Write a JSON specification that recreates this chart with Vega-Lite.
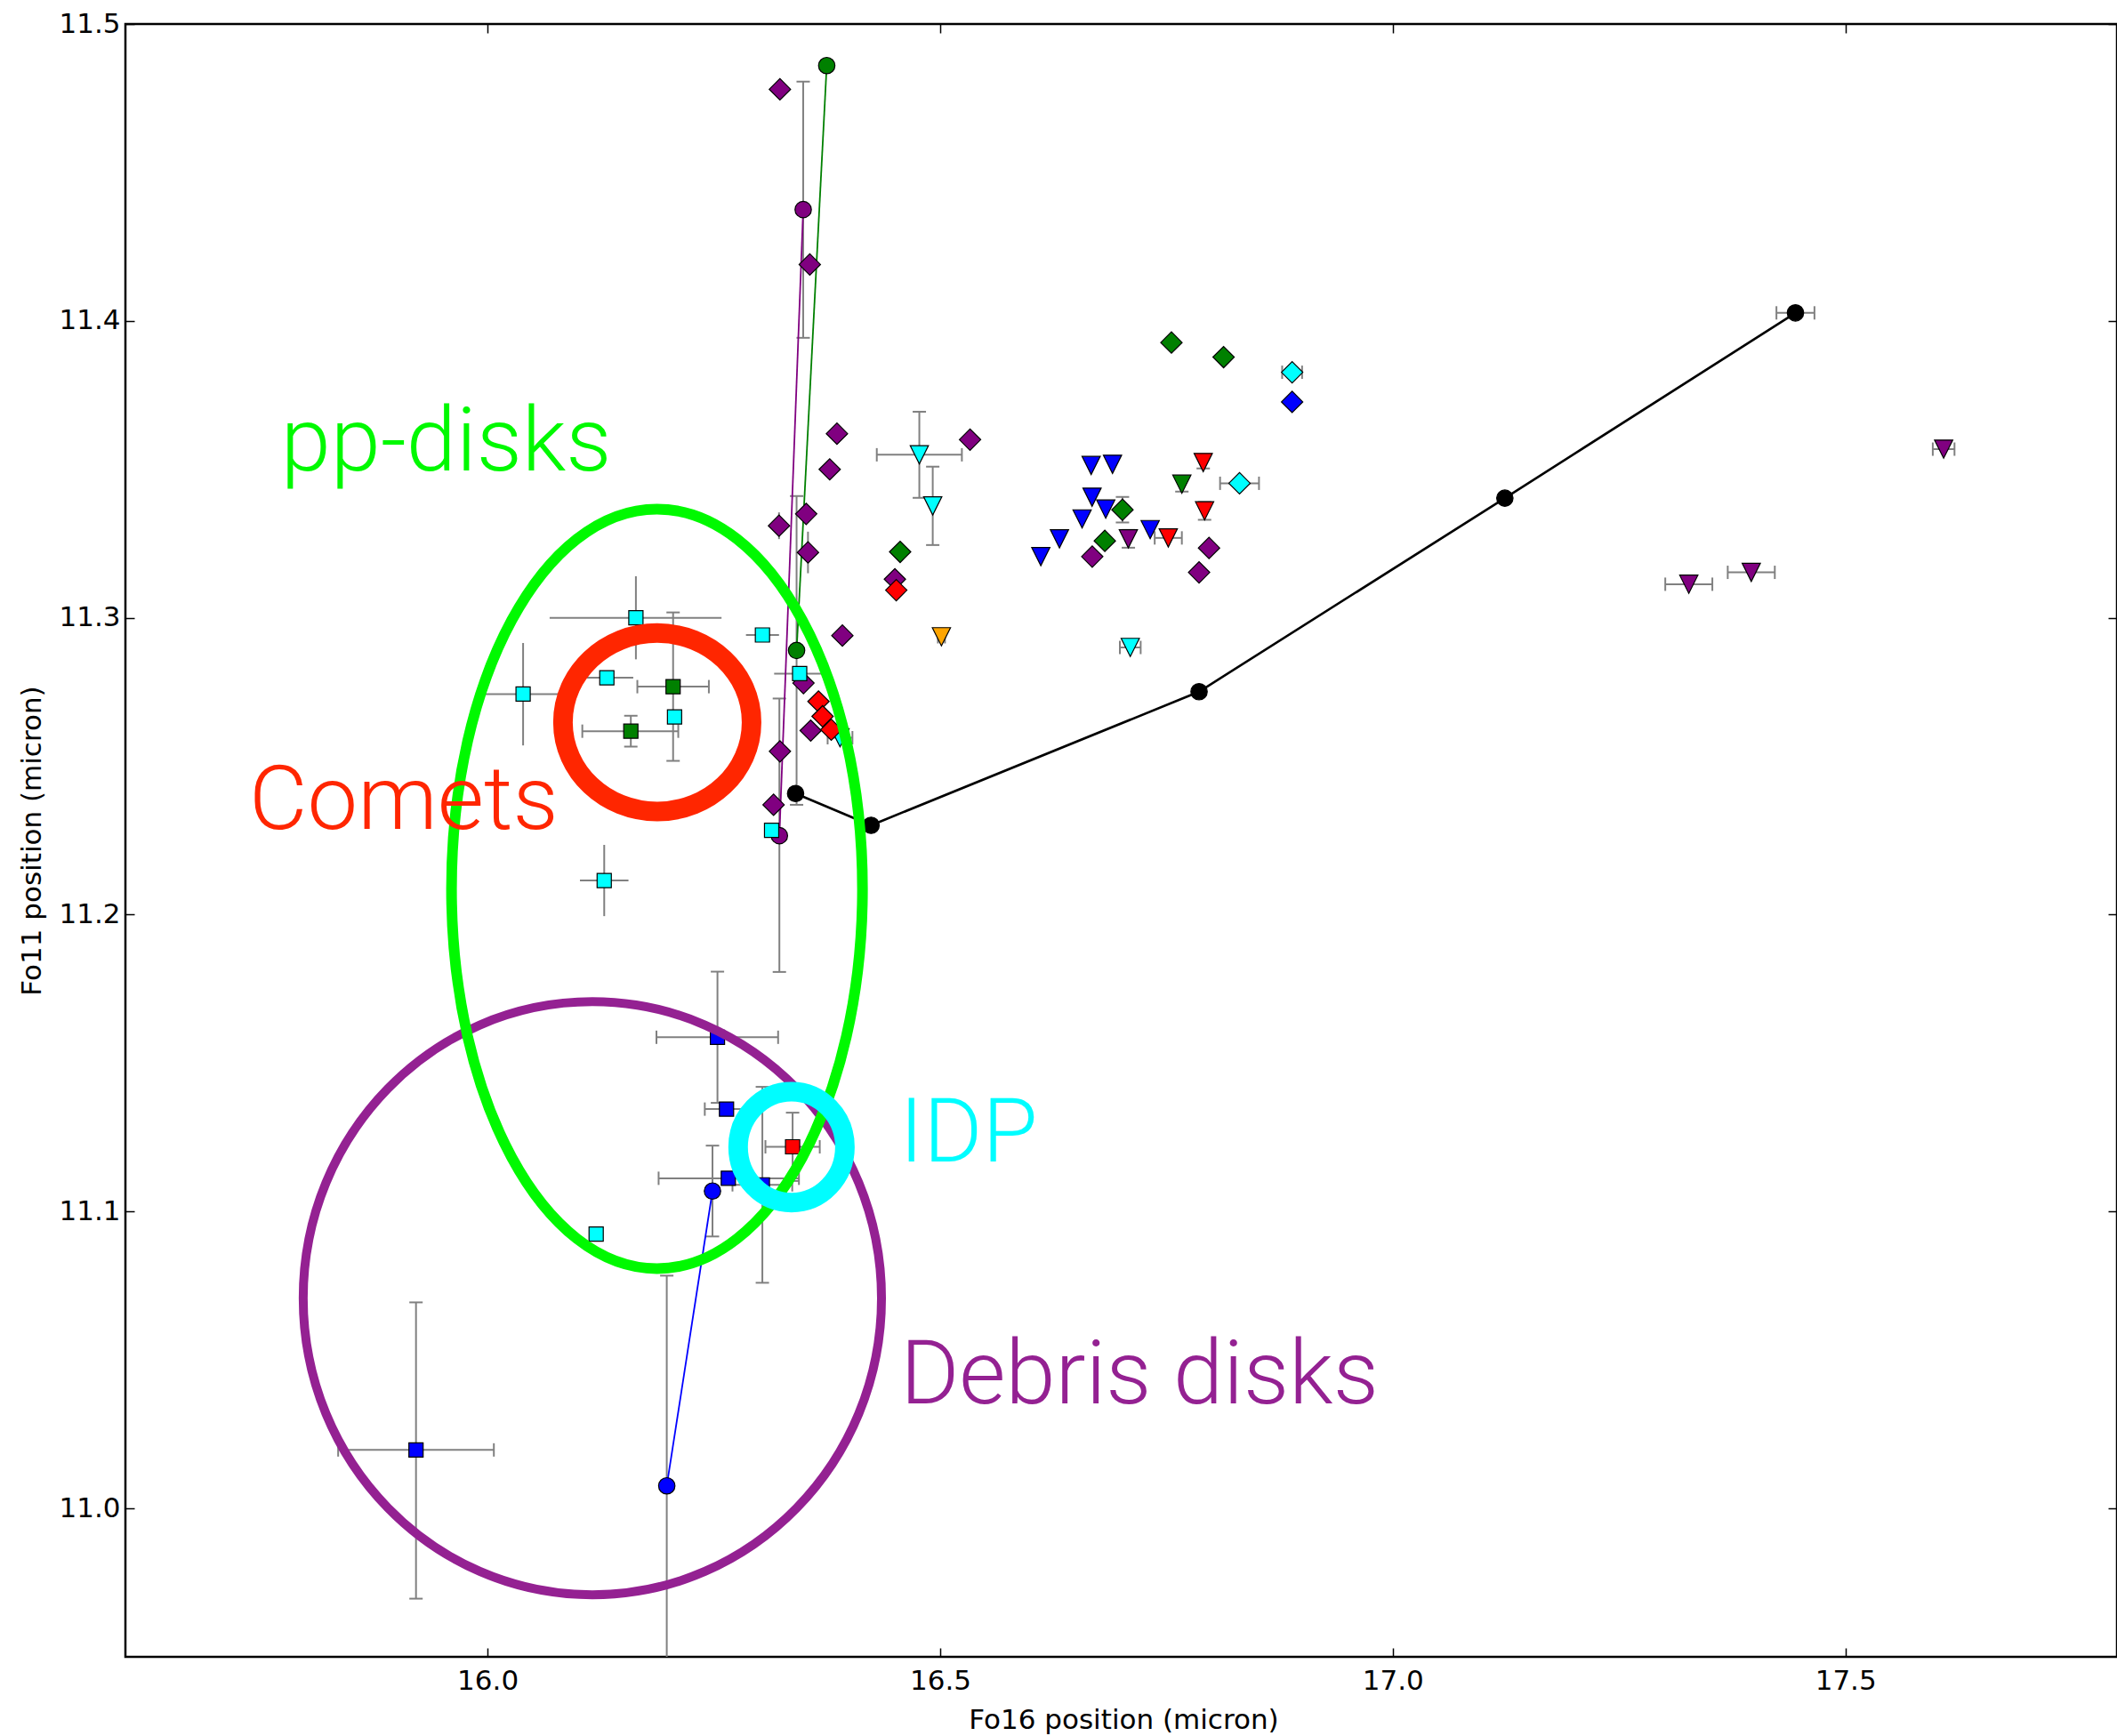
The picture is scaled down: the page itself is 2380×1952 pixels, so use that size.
{
  "$schema": "https://vega.github.io/schema/vega-lite/v6.json",
  "width": 2239,
  "height": 1836,
  "autosize": {"type": "none"},
  "padding": {"left": 141, "top": 27, "right": 0, "bottom": 89},
  "background": "white",
  "config": {
    "view": {"stroke": "#000", "strokeWidth": 2.5},
    "axis": {
      "labelFont": "DejaVu Sans", "labelFontSize": 31, "labelColor": "#000",
      "titleFont": "DejaVu Sans", "titleFontSize": 31, "titleFontWeight": "normal", "titleColor": "#000",
      "tickColor": "#000", "tickWidth": 1.5, "tickSize": -10, "grid": false, "domain": false
    }
  },
  "datasets": {
    "pts": [
      {"x": 16.3403, "y": 11.2408, "kind": "circle", "col": "black", "track": "black"},
      {"x": 16.4237, "y": 11.2301, "kind": "circle", "col": "black", "track": "black"},
      {"x": 16.786, "y": 11.2751, "kind": "circle", "col": "black", "track": "black"},
      {"x": 17.1238, "y": 11.3403, "kind": "circle", "col": "black", "track": "black"},
      {"x": 17.4448, "y": 11.4027, "kind": "circle", "col": "black", "track": "black", "xlo": 17.4238, "xhi": 17.4658},
      {"x": 16.323, "y": 11.478, "kind": "diamond", "col": "purple"},
      {"x": 16.356, "y": 11.419, "kind": "diamond", "col": "purple"},
      {"x": 16.386, "y": 11.362, "kind": "diamond", "col": "purple"},
      {"x": 16.378, "y": 11.35, "kind": "diamond", "col": "purple"},
      {"x": 16.352, "y": 11.335, "kind": "diamond", "col": "purple"},
      {"x": 16.322, "y": 11.331, "kind": "diamond", "col": "purple", "ylo": 11.3265, "yhi": 11.3355},
      {"x": 16.354, "y": 11.322, "kind": "diamond", "col": "purple", "ylo": 11.315, "yhi": 11.329},
      {"x": 16.533, "y": 11.36, "kind": "diamond", "col": "purple"},
      {"x": 16.45, "y": 11.313, "kind": "diamond", "col": "purple"},
      {"x": 16.392, "y": 11.294, "kind": "diamond", "col": "purple"},
      {"x": 16.349, "y": 11.278, "kind": "diamond", "col": "purple"},
      {"x": 16.357, "y": 11.262, "kind": "diamond", "col": "purple"},
      {"x": 16.323, "y": 11.255, "kind": "diamond", "col": "purple"},
      {"x": 16.316, "y": 11.237, "kind": "diamond", "col": "purple"},
      {"x": 16.668, "y": 11.3206, "kind": "diamond", "col": "purple"},
      {"x": 16.797, "y": 11.3235, "kind": "diamond", "col": "purple"},
      {"x": 16.786, "y": 11.3153, "kind": "diamond", "col": "purple"},
      {"x": 16.3224, "y": 11.2266, "kind": "circle", "col": "purple", "track": "purple", "ylo": 11.1807, "yhi": 11.2728},
      {"x": 16.3487, "y": 11.4375, "kind": "circle", "col": "purple", "track": "purple", "ylo": 11.3943, "yhi": 11.4806},
      {"x": 16.3414, "y": 11.289, "kind": "circle", "col": "green", "track": "green", "ylo": 11.237, "yhi": 11.341},
      {"x": 16.3747, "y": 11.486, "kind": "circle", "col": "green", "track": "green"},
      {"x": 16.198, "y": 11.0076, "kind": "circle", "col": "blue", "track": "blue", "ylo": 10.9368, "yhi": 11.0784},
      {"x": 16.2485, "y": 11.1069, "kind": "circle", "col": "blue", "track": "blue", "ylo": 11.0916, "yhi": 11.1222},
      {"x": 16.477, "y": 11.3549, "kind": "tri", "col": "cyan", "xlo": 16.43, "xhi": 16.524, "ylo": 11.3404, "yhi": 11.3694},
      {"x": 16.4918, "y": 11.3377, "kind": "tri", "col": "cyan", "ylo": 11.3245, "yhi": 11.3509},
      {"x": 16.3894, "y": 11.2596, "kind": "tri", "col": "cyan", "xlo": 16.3757, "xhi": 16.4031},
      {"x": 16.71, "y": 11.29, "kind": "tri", "col": "cyan", "xlo": 16.6985, "xhi": 16.7215},
      {"x": 16.5014, "y": 11.2936, "kind": "tri", "col": "orange", "xlo": 16.4975, "xhi": 16.5053},
      {"x": 16.6668, "y": 11.3513, "kind": "tri", "col": "blue"},
      {"x": 16.6904, "y": 11.3517, "kind": "tri", "col": "blue"},
      {"x": 16.6678, "y": 11.3406, "kind": "tri", "col": "blue"},
      {"x": 16.6829, "y": 11.3366, "kind": "tri", "col": "blue"},
      {"x": 16.6568, "y": 11.3333, "kind": "tri", "col": "blue"},
      {"x": 16.6318, "y": 11.3266, "kind": "tri", "col": "blue"},
      {"x": 16.6112, "y": 11.3206, "kind": "tri", "col": "blue"},
      {"x": 16.732, "y": 11.3297, "kind": "tri", "col": "blue"},
      {"x": 16.752, "y": 11.3269, "kind": "tri", "col": "red", "xlo": 16.737, "xhi": 16.767},
      {"x": 16.7906, "y": 11.3523, "kind": "tri", "col": "red", "ylo": 11.3503, "yhi": 11.3543},
      {"x": 16.7921, "y": 11.336, "kind": "tri", "col": "red", "ylo": 11.333, "yhi": 11.339},
      {"x": 16.767, "y": 11.345, "kind": "tri", "col": "green", "ylo": 11.3425, "yhi": 11.3475},
      {"x": 16.7079, "y": 11.3266, "kind": "tri", "col": "purple", "ylo": 11.3236, "yhi": 11.3296},
      {"x": 17.6085, "y": 11.3568, "kind": "tri", "col": "purple", "xlo": 17.5965, "xhi": 17.6205},
      {"x": 17.327, "y": 11.3113, "kind": "tri", "col": "purple", "xlo": 17.301, "xhi": 17.353},
      {"x": 17.396, "y": 11.3153, "kind": "tri", "col": "purple", "xlo": 17.37, "xhi": 17.422},
      {"x": 16.4558, "y": 11.3222, "kind": "diamond", "col": "green"},
      {"x": 16.7555, "y": 11.3927, "kind": "diamond", "col": "green"},
      {"x": 16.8131, "y": 11.3878, "kind": "diamond", "col": "green"},
      {"x": 16.7014, "y": 11.3364, "kind": "diamond", "col": "green", "ylo": 11.3321, "yhi": 11.3407},
      {"x": 16.6819, "y": 11.3259, "kind": "diamond", "col": "green"},
      {"x": 16.8888, "y": 11.3827, "kind": "diamond", "col": "cyan", "xlo": 16.8778, "xhi": 16.8998},
      {"x": 16.8307, "y": 11.3453, "kind": "diamond", "col": "cyan", "xlo": 16.8092, "xhi": 16.8522},
      {"x": 16.8888, "y": 11.3727, "kind": "diamond", "col": "blue"},
      {"x": 16.4515, "y": 11.3093, "kind": "diamond", "col": "red"},
      {"x": 16.3656, "y": 11.2718, "kind": "diamond", "col": "red"},
      {"x": 16.3701, "y": 11.2668, "kind": "diamond", "col": "red"},
      {"x": 16.3797, "y": 11.2623, "kind": "diamond", "col": "red"},
      {"x": 16.1639, "y": 11.3, "kind": "square", "col": "cyan", "xlo": 16.0686, "xhi": 16.2585, "ylo": 11.286, "yhi": 11.314},
      {"x": 16.3037, "y": 11.2942, "kind": "square", "col": "cyan", "xlo": 16.2855, "xhi": 16.322},
      {"x": 16.3448, "y": 11.2812, "kind": "square", "col": "cyan", "xlo": 16.3166, "xhi": 16.3712},
      {"x": 16.1318, "y": 11.2798, "kind": "square", "col": "cyan", "xlo": 16.1092, "xhi": 16.161},
      {"x": 16.0393, "y": 11.2743, "kind": "square", "col": "cyan", "xlo": 15.9954, "xhi": 16.078, "ylo": 11.257, "yhi": 11.2915},
      {"x": 16.2066, "y": 11.2666, "kind": "square", "col": "cyan"},
      {"x": 16.1289, "y": 11.2115, "kind": "square", "col": "cyan", "xlo": 16.1021, "xhi": 16.1557, "ylo": 11.1995, "yhi": 11.2235},
      {"x": 16.3138, "y": 11.2284, "kind": "square", "col": "cyan"},
      {"x": 16.12, "y": 11.0924, "kind": "square", "col": "cyan"},
      {"x": 16.205, "y": 11.2768, "kind": "square", "col": "green", "xlo": 16.1655, "xhi": 16.2445, "ylo": 11.2518, "yhi": 11.3018},
      {"x": 16.1583, "y": 11.2618, "kind": "square", "col": "green", "xlo": 16.1047, "xhi": 16.2107, "ylo": 11.2566, "yhi": 11.267},
      {"x": 15.921, "y": 11.0197, "kind": "square", "col": "blue", "xlo": 15.835, "xhi": 16.007, "ylo": 10.9696, "yhi": 11.0694},
      {"x": 16.254, "y": 11.1587, "kind": "square", "col": "blue", "xlo": 16.1866, "xhi": 16.321, "ylo": 11.1366, "yhi": 11.1808},
      {"x": 16.264, "y": 11.1345, "kind": "square", "col": "blue", "xlo": 16.24, "xhi": 16.288},
      {"x": 16.266, "y": 11.1112, "kind": "square", "col": "blue", "xlo": 16.189, "xhi": 16.344},
      {"x": 16.3036, "y": 11.109, "kind": "square", "col": "blue", "xlo": 16.2706, "xhi": 16.3366, "ylo": 11.076, "yhi": 11.142},
      {"x": 16.337, "y": 11.1218, "kind": "square", "col": "red", "xlo": 16.307, "xhi": 16.367, "ylo": 11.1103, "yhi": 11.1333}
    ],
    "rings": [
      {"id": "pp", "cx": 16.1872, "cy": 11.2087},
      {"id": "comets", "cx": 16.1875, "cy": 11.2648},
      {"id": "idp", "cx": 16.3358, "cy": 11.1217},
      {"id": "debris", "cx": 16.1158, "cy": 11.0708}
    ],
    "labels": [
      {"label": "pp-disks", "lx": 15.7718, "ly": 11.3497},
      {"label": "Comets", "lx": 15.7365, "ly": 11.229},
      {"label": "IDP", "lx": 16.4552, "ly": 11.1168},
      {"label": "Debris disks", "lx": 16.456, "ly": 11.0355}
    ]
  },
  "resolve": {"axis": {"x": "independent", "y": "independent"}},
  "layer": [
    {
      "data": {"name": "pts"},
      "transform": [{"filter": "datum.xlo != null"}],
      "mark": {"type": "rule", "color": "#808080", "strokeWidth": 2, "clip": true},
      "encoding": {
        "x": {"field": "xlo", "type": "quantitative", "scale": {"domain": [15.6, 17.8], "nice": false, "zero": false},
          "axis": {"orient": "bottom", "values": [16, 16.5, 17, 17.5], "format": ".1f", "labelPadding": 22, "labelFlush": false,
            "title": "Fo16 position (micron)", "titleX": 1122, "titleY": 80, "titleBaseline": "alphabetic", "titleAlign": "center"}},
        "x2": {"field": "xhi"},
        "y": {"field": "y", "type": "quantitative", "scale": {"domain": [10.95, 11.5], "nice": false, "zero": false},
          "axis": {"orient": "left", "values": [11, 11.1, 11.2, 11.3, 11.4, 11.5], "format": ".1f", "labelPadding": 16,
            "title": "Fo11 position (micron)", "titleX": -96, "titleY": 918, "titleAngle": -90, "titleBaseline": "alphabetic", "titleAlign": "center"}}
      }
    },
    {
      "data": {"name": "pts"},
      "transform": [{"filter": "datum.ylo != null"}],
      "mark": {"type": "rule", "color": "#808080", "strokeWidth": 2, "clip": true},
      "encoding": {
        "x": {"field": "x", "type": "quantitative", "scale": {"domain": [15.6, 17.8], "nice": false, "zero": false},
          "axis": {"orient": "top", "values": [16, 16.5, 17, 17.5], "labels": false, "title": null}},
        "y": {"field": "ylo", "type": "quantitative", "scale": {"domain": [10.95, 11.5], "nice": false, "zero": false},
          "axis": {"orient": "right", "values": [11, 11.1, 11.2, 11.3, 11.4, 11.5], "labels": false, "title": null}},
        "y2": {"field": "yhi"}
      }
    },
    {
      "data": {"name": "pts"},
      "transform": [
        {"filter": "datum.xlo != null && !(datum.kind == 'square' && datum.col == 'cyan') && !(datum.kind == 'diamond' && datum.col == 'purple')"},
        {"fold": ["xlo", "xhi"], "as": ["k", "v"]}
      ],
      "mark": {"type": "tick", "orient": "vertical", "size": 15, "thickness": 2, "color": "#808080", "opacity": 1, "clip": true},
      "encoding": {
        "x": {"field": "v", "type": "quantitative", "scale": {"domain": [15.6, 17.8], "nice": false, "zero": false}, "axis": null},
        "y": {"field": "y", "type": "quantitative", "scale": {"domain": [10.95, 11.5], "nice": false, "zero": false}, "axis": null}
      }
    },
    {
      "data": {"name": "pts"},
      "transform": [
        {"filter": "datum.ylo != null && !(datum.kind == 'square' && datum.col == 'cyan') && !(datum.kind == 'diamond' && datum.col == 'purple')"},
        {"fold": ["ylo", "yhi"], "as": ["k", "v"]}
      ],
      "mark": {"type": "tick", "orient": "horizontal", "size": 15, "thickness": 2, "color": "#808080", "opacity": 1, "clip": true},
      "encoding": {
        "x": {"field": "x", "type": "quantitative", "scale": {"domain": [15.6, 17.8], "nice": false, "zero": false}, "axis": null},
        "y": {"field": "v", "type": "quantitative", "scale": {"domain": [10.95, 11.5], "nice": false, "zero": false}, "axis": null}
      }
    },
    {
      "data": {"name": "pts"},
      "transform": [{"filter": "datum.track == 'black'"}],
      "mark": {"type": "line", "color": "#000", "strokeWidth": 2.6, "clip": true},
      "encoding": {
        "x": {"field": "x", "type": "quantitative", "scale": {"domain": [15.6, 17.8], "nice": false, "zero": false}, "axis": null},
        "y": {"field": "y", "type": "quantitative", "scale": {"domain": [10.95, 11.5], "nice": false, "zero": false}, "axis": null}
      }
    },
    {
      "data": {"name": "pts"},
      "transform": [{"filter": "datum.track != null && datum.track != 'black'"}],
      "mark": {"type": "line", "strokeWidth": 1.8, "clip": true},
      "encoding": {
        "x": {"field": "x", "type": "quantitative", "scale": {"domain": [15.6, 17.8], "nice": false, "zero": false}, "axis": null},
        "y": {"field": "y", "type": "quantitative", "scale": {"domain": [10.95, 11.5], "nice": false, "zero": false}, "axis": null},
        "detail": {"field": "track", "type": "nominal"},
        "stroke": {"field": "col", "type": "nominal", "legend": null,
          "scale": {"domain": ["purple", "green", "blue"], "range": ["#800080", "#008000", "#0000ff"]}}
      }
    },
    {
      "data": {"name": "pts"},
      "mark": {"type": "point", "filled": true, "opacity": 1, "stroke": "#000", "strokeWidth": 1.2, "clip": true},
      "encoding": {
        "x": {"field": "x", "type": "quantitative", "scale": {"domain": [15.6, 17.8], "nice": false, "zero": false}, "axis": null},
        "y": {"field": "y", "type": "quantitative", "scale": {"domain": [10.95, 11.5], "nice": false, "zero": false}, "axis": null},
        "fill": {"field": "col", "type": "nominal", "legend": null,
          "scale": {"domain": ["black", "purple", "green", "blue", "cyan", "red", "orange"],
                    "range": ["#000000", "#800080", "#008000", "#0000ff", "#00ffff", "#ff0000", "#ffa500"]}},
        "shape": {"field": "kind", "type": "nominal", "legend": null,
          "scale": {"domain": ["square", "diamond", "tri", "circle"], "range": ["square", "diamond", "M -1 -1 L 1 -1 L 0 1 Z", "circle"]}},
        "size": {"field": "kind", "type": "nominal", "legend": null,
          "scale": {"type": "ordinal", "domain": ["square", "diamond", "tri", "circle"], "range": [256, 576, 420, 340]}}
      }
    },
    {
      "data": {"name": "rings"},
      "transform": [{"filter": "datum.id == 'debris'"}],
      "mark": {"type": "point", "filled": false, "opacity": 1, "stroke": "#942192", "strokeWidth": 10, "size": 444622,
        "shape": "M 0 -1 C 0.5385 -1 0.975 -0.5523 0.975 0 C 0.975 0.5523 0.5385 1 0 1 C -0.5385 1 -0.975 0.5523 -0.975 0 C -0.975 -0.5523 -0.5385 -1 0 -1 Z"},
      "encoding": {
        "x": {"field": "cx", "type": "quantitative", "scale": {"domain": [15.6, 17.8], "nice": false, "zero": false}, "axis": null},
        "y": {"field": "cy", "type": "quantitative", "scale": {"domain": [10.95, 11.5], "nice": false, "zero": false}, "axis": null}
      }
    },
    {
      "data": {"name": "rings"},
      "transform": [{"filter": "datum.id == 'pp'"}],
      "mark": {"type": "point", "filled": false, "opacity": 1, "stroke": "#00f900", "strokeWidth": 12, "size": 729316,
        "shape": "M 0 -1 C 0.2988 -1 0.541 -0.5523 0.541 0 C 0.541 0.5523 0.2988 1 0 1 C -0.2988 1 -0.541 0.5523 -0.541 0 C -0.541 -0.5523 -0.2988 -1 0 -1 Z"},
      "encoding": {
        "x": {"field": "cx", "type": "quantitative", "scale": {"domain": [15.6, 17.8], "nice": false, "zero": false}, "axis": null},
        "y": {"field": "cy", "type": "quantitative", "scale": {"domain": [10.95, 11.5], "nice": false, "zero": false}, "axis": null}
      }
    },
    {
      "data": {"name": "rings"},
      "transform": [{"filter": "datum.id == 'comets'"}],
      "mark": {"type": "point", "filled": false, "opacity": 1, "stroke": "#ff2600", "strokeWidth": 22, "size": 40240,
        "shape": "M 0 -1 C 0.5838 -1 1.057 -0.5523 1.057 0 C 1.057 0.5523 0.5838 1 0 1 C -0.5838 1 -1.057 0.5523 -1.057 0 C -1.057 -0.5523 -0.5838 -1 0 -1 Z"},
      "encoding": {
        "x": {"field": "cx", "type": "quantitative", "scale": {"domain": [15.6, 17.8], "nice": false, "zero": false}, "axis": null},
        "y": {"field": "cy", "type": "quantitative", "scale": {"domain": [10.95, 11.5], "nice": false, "zero": false}, "axis": null}
      }
    },
    {
      "data": {"name": "rings"},
      "transform": [{"filter": "datum.id == 'idp'"}],
      "mark": {"type": "point", "filled": false, "opacity": 1, "stroke": "#00fdff", "strokeWidth": 22, "size": 15575,
        "shape": "M 0 -1 C 0.5313 -1 0.962 -0.5523 0.962 0 C 0.962 0.5523 0.5313 1 0 1 C -0.5313 1 -0.962 0.5523 -0.962 0 C -0.962 -0.5523 -0.5313 -1 0 -1 Z"},
      "encoding": {
        "x": {"field": "cx", "type": "quantitative", "scale": {"domain": [15.6, 17.8], "nice": false, "zero": false}, "axis": null},
        "y": {"field": "cy", "type": "quantitative", "scale": {"domain": [10.95, 11.5], "nice": false, "zero": false}, "axis": null}
      }
    },
    {
      "data": {"name": "labels"},
      "mark": {"type": "text", "align": "left", "baseline": "alphabetic", "font": "Roboto", "fontWeight": 300, "fontSize": 101},
      "encoding": {
        "x": {"field": "lx", "type": "quantitative", "scale": {"domain": [15.6, 17.8], "nice": false, "zero": false}, "axis": null},
        "y": {"field": "ly", "type": "quantitative", "scale": {"domain": [10.95, 11.5], "nice": false, "zero": false}, "axis": null},
        "text": {"field": "label", "type": "nominal"},
        "color": {"field": "label", "type": "nominal", "legend": null,
          "scale": {"domain": ["pp-disks", "Comets", "IDP", "Debris disks"], "range": ["#00f900", "#ff2600", "#00fdff", "#942192"]}}
      }
    }
  ]
}
